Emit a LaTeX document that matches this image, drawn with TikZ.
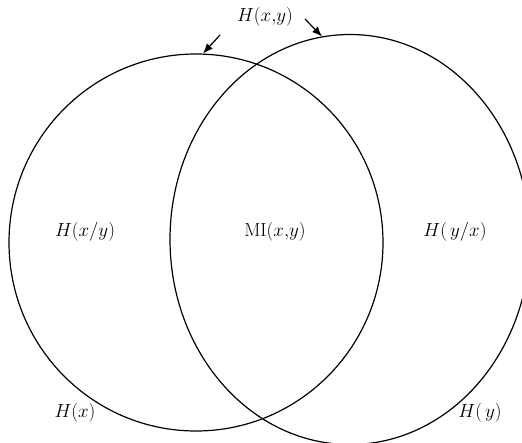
\documentclass[tikz,border=0pt]{standalone}
\usepackage{fix-cm}
\usetikzlibrary{shapes.geometric,arrows.meta}
\tikzset{
  setring/.style={draw, ellipse, line width=1.2pt, inner sep=0pt},
  lbl/.style={font=\fontsize{19}{23}\selectfont},
  pointer/.style={line width=1.2pt, -{Latex[length=10pt,width=8pt]}}
}
\begin{document}
\begin{tikzpicture}[x=1pt,y=-1pt]
\useasboundingbox (0,0) rectangle (522,443);
\begin{scope}
\clip (0,0) rectangle (522,443);
\node[setring, minimum width=374pt, minimum height=377pt] (L) at (196,242.5) {};
\node[setring, minimum width=360pt, minimum height=410pt] (R) at (350,239.5) {};
\end{scope}
\node[lbl] (hxy) at (265,17) {$H(x{,}y)$};
\node[lbl] (hxgy) at (85,232) {$H(x/y)$};
\node[lbl] (mi) at (275,232) {$\mathrm{MI}(x{,}y)$};
\node[lbl] (hygx) at (455,232) {$H(\,y/x)$};
\node[lbl] (hx) at (75,413) {$H(x)$};
\node[lbl] (hy) at (480,413) {$H(\,y)$};
\coordinate (a1s) at (220,35);
\coordinate (a1e) at (203,53.5);
\coordinate (a2s) at (305,19);
\coordinate (a2e) at (322,36.5);
\draw[pointer] (a1s) -- (a1e);
\draw[pointer] (a2s) -- (a2e);
\end{tikzpicture}
\end{document}
